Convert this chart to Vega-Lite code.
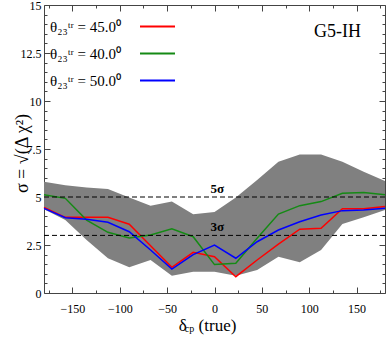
{
  "$schema": "https://vega.github.io/schema/vega-lite/v6.json",
  "width": 341,
  "height": 288,
  "autosize": "none",
  "padding": {"left": 44, "top": 5, "right": 5, "bottom": 46},
  "config": {
    "font": "Liberation Serif",
    "view": {"stroke": "#444", "strokeWidth": 1},
    "axis": {"domain": false, "grid": false, "tickColor": "#444", "labelColor": "black", "labelFont": "Liberation Serif", "labelFontSize": 12, "titleFont": "Liberation Serif", "titleFontWeight": "normal", "titleColor": "black"},
    "legend": {"labelFont": "Liberation Serif"}
  },
  "title": {"text": "G5-IH", "anchor": "end", "orient": "top", "frame": "group", "offset": -42, "dx": -24, "fontSize": 18, "fontWeight": "normal", "font": "Liberation Serif", "color": "black"},
  "datasets": {
    "band": [
      {"x": -180, "lo": 4.36, "hi": 5.8},
      {"x": -157.5, "lo": 3.8, "hi": 5.61},
      {"x": -135, "lo": 2.76, "hi": 5.49},
      {"x": -112.5, "lo": 1.81, "hi": 5.42},
      {"x": -90, "lo": 1.34, "hi": 4.98},
      {"x": -67.5, "lo": 1.72, "hi": 4.55},
      {"x": -45, "lo": 0.9, "hi": 4.76},
      {"x": -22.5, "lo": 1.11, "hi": 4.1},
      {"x": 0, "lo": 1.11, "hi": 4.22},
      {"x": 22.5, "lo": 0.9, "hi": 4.97},
      {"x": 45, "lo": 1.2, "hi": 5.89},
      {"x": 67.5, "lo": 1.89, "hi": 6.84},
      {"x": 90, "lo": 1.6, "hi": 7.22},
      {"x": 112.5, "lo": 2.24, "hi": 7.22},
      {"x": 135, "lo": 3.59, "hi": 6.84},
      {"x": 157.5, "lo": 3.94, "hi": 6.32},
      {"x": 180, "lo": 4.32, "hi": 5.83}
    ],
    "lines": [
      {"x": -180, "y": 4.46, "s": "θ₂₃ᵗʳ = 45.0⁰"},
      {"x": -157.5, "y": 3.94, "s": "θ₂₃ᵗʳ = 45.0⁰"},
      {"x": -135, "y": 3.94, "s": "θ₂₃ᵗʳ = 45.0⁰"},
      {"x": -112.5, "y": 3.94, "s": "θ₂₃ᵗʳ = 45.0⁰"},
      {"x": -90, "y": 3.58, "s": "θ₂₃ᵗʳ = 45.0⁰"},
      {"x": -67.5, "y": 2.46, "s": "θ₂₃ᵗʳ = 45.0⁰"},
      {"x": -45, "y": 1.34, "s": "θ₂₃ᵗʳ = 45.0⁰"},
      {"x": -22.5, "y": 2.12, "s": "θ₂₃ᵗʳ = 45.0⁰"},
      {"x": 0, "y": 1.89, "s": "θ₂₃ᵗʳ = 45.0⁰"},
      {"x": 22.5, "y": 0.85, "s": "θ₂₃ᵗʳ = 45.0⁰"},
      {"x": 45, "y": 1.72, "s": "θ₂₃ᵗʳ = 45.0⁰"},
      {"x": 67.5, "y": 2.55, "s": "θ₂₃ᵗʳ = 45.0⁰"},
      {"x": 90, "y": 3.32, "s": "θ₂₃ᵗʳ = 45.0⁰"},
      {"x": 112.5, "y": 3.37, "s": "θ₂₃ᵗʳ = 45.0⁰"},
      {"x": 135, "y": 4.39, "s": "θ₂₃ᵗʳ = 45.0⁰"},
      {"x": 157.5, "y": 4.39, "s": "θ₂₃ᵗʳ = 45.0⁰"},
      {"x": 180, "y": 4.5, "s": "θ₂₃ᵗʳ = 45.0⁰"},
      {"x": -180, "y": 5.12, "s": "θ₂₃ᵗʳ = 40.0⁰"},
      {"x": -157.5, "y": 4.93, "s": "θ₂₃ᵗʳ = 40.0⁰"},
      {"x": -135, "y": 3.8, "s": "θ₂₃ᵗʳ = 40.0⁰"},
      {"x": -112.5, "y": 3.16, "s": "θ₂₃ᵗʳ = 40.0⁰"},
      {"x": -90, "y": 2.86, "s": "θ₂₃ᵗʳ = 40.0⁰"},
      {"x": -67.5, "y": 3.02, "s": "θ₂₃ᵗʳ = 40.0⁰"},
      {"x": -45, "y": 3.35, "s": "θ₂₃ᵗʳ = 40.0⁰"},
      {"x": -22.5, "y": 2.93, "s": "θ₂₃ᵗʳ = 40.0⁰"},
      {"x": 0, "y": 1.48, "s": "θ₂₃ᵗʳ = 40.0⁰"},
      {"x": 22.5, "y": 1.55, "s": "θ₂₃ᵗʳ = 40.0⁰"},
      {"x": 45, "y": 2.85, "s": "θ₂₃ᵗʳ = 40.0⁰"},
      {"x": 67.5, "y": 4.11, "s": "θ₂₃ᵗʳ = 40.0⁰"},
      {"x": 90, "y": 4.55, "s": "θ₂₃ᵗʳ = 40.0⁰"},
      {"x": 112.5, "y": 4.76, "s": "θ₂₃ᵗʳ = 40.0⁰"},
      {"x": 135, "y": 5.19, "s": "θ₂₃ᵗʳ = 40.0⁰"},
      {"x": 157.5, "y": 5.24, "s": "θ₂₃ᵗʳ = 40.0⁰"},
      {"x": 180, "y": 5.12, "s": "θ₂₃ᵗʳ = 40.0⁰"},
      {"x": -180, "y": 4.41, "s": "θ₂₃ᵗʳ = 50.0⁰"},
      {"x": -157.5, "y": 3.92, "s": "θ₂₃ᵗʳ = 50.0⁰"},
      {"x": -135, "y": 3.84, "s": "θ₂₃ᵗʳ = 50.0⁰"},
      {"x": -112.5, "y": 3.68, "s": "θ₂₃ᵗʳ = 50.0⁰"},
      {"x": -90, "y": 3.19, "s": "θ₂₃ᵗʳ = 50.0⁰"},
      {"x": -67.5, "y": 2.24, "s": "θ₂₃ᵗʳ = 50.0⁰"},
      {"x": -45, "y": 1.25, "s": "θ₂₃ᵗʳ = 50.0⁰"},
      {"x": -22.5, "y": 2.0, "s": "θ₂₃ᵗʳ = 50.0⁰"},
      {"x": 0, "y": 2.5, "s": "θ₂₃ᵗʳ = 50.0⁰"},
      {"x": 22.5, "y": 1.81, "s": "θ₂₃ᵗʳ = 50.0⁰"},
      {"x": 45, "y": 2.67, "s": "θ₂₃ᵗʳ = 50.0⁰"},
      {"x": 67.5, "y": 3.28, "s": "θ₂₃ᵗʳ = 50.0⁰"},
      {"x": 90, "y": 3.71, "s": "θ₂₃ᵗʳ = 50.0⁰"},
      {"x": 112.5, "y": 4.06, "s": "θ₂₃ᵗʳ = 50.0⁰"},
      {"x": 135, "y": 4.29, "s": "θ₂₃ᵗʳ = 50.0⁰"},
      {"x": 157.5, "y": 4.32, "s": "θ₂₃ᵗʳ = 50.0⁰"},
      {"x": 180, "y": 4.41, "s": "θ₂₃ᵗʳ = 50.0⁰"}
    ],
    "levels": [{"y": 5, "label": "5σ"}, {"y": 3, "label": "3σ"}]
  },
  "layer": [
    {
      "data": {"name": "band"},
      "mark": {"type": "area", "color": "#808080", "opacity": 1},
      "encoding": {
        "x": {"field": "x", "type": "quantitative", "scale": {"domain": [-180, 180], "nice": false},
          "axis": {"orient": "bottom", "values": [-175, -150, -125, -100, -75, -50, -25, 0, 25, 50, 75, 100, 125, 150, 175],
            "labelExpr": "datum.value % 50 === 0 ? format(datum.value, '') : ''",
            "tickSize": {"condition": {"test": "datum.value % 50 === 0", "value": -6}, "value": -3},
            "labelFont": "Liberation Serif", "labelFontSize": 12,
            "labelPadding": 16, "title": "δ\u2002\u2009(true)", "titleFont": "Liberation Serif", "titleFontSize": 17, "titleX": 163, "titleY": 37, "titleBaseline": "alphabetic", "titleAlign": "center"}},
        "y": {"field": "lo", "type": "quantitative", "scale": {"domain": [0, 15], "nice": false},
          "axis": {"orient": "left", "values": [0, 0.5, 1, 1.5, 2, 2.5, 3, 3.5, 4, 4.5, 5, 5.5, 6, 6.5, 7, 7.5, 8, 8.5, 9, 9.5, 10, 10.5, 11, 11.5, 12, 12.5, 13, 13.5, 14, 14.5, 15],
            "labelExpr": "datum.value % 2.5 === 0 ? format(datum.value, '') : ''",
            "tickSize": {"condition": {"test": "datum.value % 2.5 === 0", "value": -6}, "value": -3},
            "labelFont": "Liberation Serif", "labelFontSize": 12,
            "labelPadding": 9, "title": "σ = √(Δ χ²)", "titleFont": "Liberation Serif", "titleFontSize": 18, "titleX": -17, "titleY": 148, "titleAlign": "center", "titleBaseline": "alphabetic", "titleAngle": 270}},
        "y2": {"field": "hi"}
      }
    },
    {
      "data": {"name": "lines"},
      "mark": {"type": "line", "strokeWidth": 1.5},
      "encoding": {
        "x": {"field": "x", "type": "quantitative",
          "axis": {"orient": "top", "values": [-175, -150, -125, -100, -75, -50, -25, 0, 25, 50, 75, 100, 125, 150, 175], "labels": false, "title": null,
            "tickSize": {"condition": {"test": "datum.value % 50 === 0", "value": -6}, "value": -3}}},
        "y": {"field": "y", "type": "quantitative",
          "axis": {"orient": "right", "values": [0, 0.5, 1, 1.5, 2, 2.5, 3, 3.5, 4, 4.5, 5, 5.5, 6, 6.5, 7, 7.5, 8, 8.5, 9, 9.5, 10, 10.5, 11, 11.5, 12, 12.5, 13, 13.5, 14, 14.5, 15], "labels": false, "title": null,
            "tickSize": {"condition": {"test": "datum.value % 2.5 === 0", "value": -6}, "value": -3}}},
        "color": {"field": "s", "type": "nominal",
          "scale": {"domain": ["θ₂₃ᵗʳ = 45.0⁰", "θ₂₃ᵗʳ = 40.0⁰", "θ₂₃ᵗʳ = 50.0⁰"], "range": ["#ff0000", "#158a15", "#0000ff"]},
          "legend": {"title": null, "orient": "none", "legendX": 95, "legendY": 3, "padding": 0, "symbolType": "stroke", "symbolSize": 1225, "symbolStrokeWidth": 2,
            "labelOffset": -55, "labelAlign": "right", "labelFont": "Liberation Serif", "labelFontSize": 15, "labelColor": "black", "rowPadding": -13.5, "labelLimit": 200}}
      }
    },
    {
      "data": {"name": "levels"},
      "mark": {"type": "rule", "color": "black", "strokeDash": [5, 3], "strokeWidth": 1},
      "encoding": {"y": {"field": "y", "type": "quantitative", "axis": null}}
    },
    {
      "data": {"name": "levels"},
      "mark": {"type": "text", "font": "Liberation Serif", "fontSize": 13, "fontWeight": "bold", "baseline": "bottom", "dy": -1, "color": "black"},
      "encoding": {
        "x": {"datum": 3, "type": "quantitative",
          "axis": {"orient": "bottom", "labels": false, "ticks": false, "domain": false, "title": "cp", "titleFont": "Liberation Serif", "titleFontSize": 10, "titleX": 145, "titleY": 38, "titleBaseline": "alphabetic", "titleAlign": "center"}},
        "y": {"field": "y", "type": "quantitative", "axis": null},
        "text": {"field": "label"}
      }
    }
  ],
  "resolve": {"axis": {"x": "independent", "y": "independent"}}
}
